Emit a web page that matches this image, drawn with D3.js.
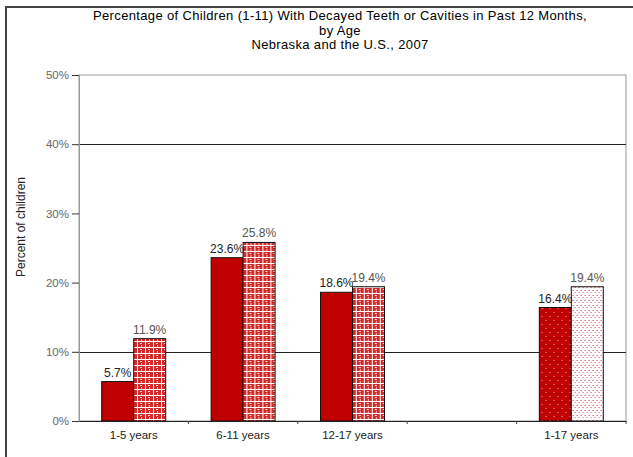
<!DOCTYPE html>
<html>
<head>
<meta charset="utf-8">
<script src="https://d3js.org/d3.v7.min.js"></script>
<style>
  body { margin: 0; background: #fff; }
  text { font-family: Arial, "Liberation Sans", sans-serif; }
</style>
</head>
<body>
<div id="chart"></div>
<script>
// chart values
var categories = ["1-5 years", "6-11 years", "12-17 years", "", "1-17 years"];
var series = ["Nebraska", "U.S."];
var nebraska = [5.7, 23.6, 18.6, null, 16.4];
var us = [11.9, 25.8, 19.4, null, 19.4];
var yTicks = [0, 10, 20, 30, 40, 50];
var gridLines = [10, 40];
var titleLines = [
  "Percentage of Children (1-11) With Decayed Teeth or Cavities in Past 12 Months,",
  "by Age",
  "Nebraska and the U.S., 2007"
];

var width = 633, height = 457;
var margin = {top: 75, right: 7, bottom: 36, left: 79};
var innerW = width - margin.left - margin.right,
    innerH = height - margin.top - margin.bottom;

var svg = d3.select("#chart").append("svg")
  .attr("width", width)
  .attr("height", height);

// patterns for the bars
var defs = svg.append("defs");

var weave = defs.append("pattern").attr("id", "weave")
  .attr("patternUnits", "userSpaceOnUse").attr("width", 8).attr("height", 6);
weave.append("rect").attr("width", 8).attr("height", 6).attr("fill", "#d42a2a");
weave.append("rect").attr("x", 0).attr("y", 2).attr("width", 8).attr("height", 1).attr("fill", "#fff");
weave.append("rect").attr("x", 2).attr("y", 0).attr("width", 1).attr("height", 6).attr("fill", "#fff");
weave.append("rect").attr("x", 5).attr("y", 4).attr("width", 2).attr("height", 1).attr("fill", "#fbe0e0");
weave.append("rect").attr("x", 6).attr("y", 0).attr("width", 1).attr("height", 2).attr("fill", "#f7c8c8");

var dotsDark = defs.append("pattern").attr("id", "dotsDark")
  .attr("patternUnits", "userSpaceOnUse").attr("width", 8).attr("height", 8);
dotsDark.append("rect").attr("width", 8).attr("height", 8).attr("fill", "#c00000");
dotsDark.append("rect").attr("x", 1).attr("y", 1).attr("width", 1).attr("height", 1).attr("fill", "#f4b0b0");
dotsDark.append("rect").attr("x", 5).attr("y", 5).attr("width", 1).attr("height", 1).attr("fill", "#f4b0b0");

var dotsLight = defs.append("pattern").attr("id", "dotsLight")
  .attr("patternUnits", "userSpaceOnUse").attr("width", 4).attr("height", 5);
dotsLight.append("rect").attr("width", 4).attr("height", 5).attr("fill", "#fff");
dotsLight.append("rect").attr("x", 0).attr("y", 0).attr("width", 1).attr("height", 1).attr("fill", "#e03030");
dotsLight.append("rect").attr("x", 2).attr("y", 2).attr("width", 1).attr("height", 1).attr("fill", "#e85050");

// outer frame
svg.append("rect")
  .attr("x", 6).attr("y", 7)
  .attr("width", width + 20).attr("height", height + 20)
  .attr("fill", "none")
  .attr("stroke", "#444")
  .attr("stroke-width", 2);

// title
svg.append("g").selectAll("text")
  .data(titleLines)
  .enter().append("text")
  .attr("x", 340)
  .attr("y", (d, i) => 20 + i * 14.5)
  .attr("text-anchor", "middle")
  .attr("font-size", 13)
  .attr("letter-spacing", 0.35)
  .attr("fill", "#000")
  .text(d => d);

var g = svg.append("g")
  .attr("transform", "translate(" + margin.left + "," + margin.top + ")");

var x0 = d3.scaleBand()
  .domain(d3.range(categories.length))
  .range([0, innerW])
  .padding(0);

var x1 = d3.scaleBand()
  .domain(series)
  .range([0, x0.bandwidth()])
  .paddingInner(0)
  .paddingOuter(0.71);

var y = d3.scaleLinear()
  .domain([0, 50])
  .range([innerH, 0]);

// plot area border
g.append("rect")
  .attr("width", innerW).attr("height", innerH)
  .attr("fill", "none")
  .attr("stroke", "#999")
  .attr("stroke-width", 1);

// grid lines
g.selectAll(".grid")
  .data(gridLines)
  .enter().append("line")
  .attr("class", "grid")
  .attr("x1", 0).attr("x2", innerW)
  .attr("y1", d => Math.round(y(d)) + 0.5)
  .attr("y2", d => Math.round(y(d)) + 0.5)
  .attr("stroke", "#222");

// y axis
var yAxis = g.append("g")
  .call(d3.axisLeft(y).tickValues(yTicks).tickSize(7).tickPadding(3)
    .tickFormat(d => d + "%"));
yAxis.select(".domain").attr("stroke", "#999");
yAxis.selectAll(".tick line").attr("stroke", "#333");
yAxis.selectAll(".tick text")
  .attr("font-size", 11.5)
  .attr("fill", "#666")
  .style("font-family", "Arial, 'Liberation Sans', sans-serif");

// y title
svg.append("text")
  .attr("transform", "translate(25,227) rotate(-90)")
  .attr("text-anchor", "middle")
  .attr("font-size", 12)
  .attr("fill", "#222")
  .text("Percent of children");

// bars
var rows = categories.map((c, i) => ({
  i: i,
  values: [
    {s: series[0], v: nebraska[i]},
    {s: series[1], v: us[i]}
  ].filter(d => d.v != null)
}));

var fills = function (d, i) {
  var total = d.cat === categories.length - 1;
  if (d.s === series[0]) return total ? "url(#dotsDark)" : "#c00000";
  return total ? "url(#dotsLight)" : "url(#weave)";
};

var grp = g.selectAll(".cat")
  .data(rows)
  .enter().append("g")
  .attr("class", "cat")
  .attr("transform", d => "translate(" + x0(d.i) + ",0)");

grp.selectAll("rect")
  .data(d => d.values.map(v => Object.assign({cat: d.i}, v)))
  .enter().append("rect")
  .attr("x", d => x1(d.s))
  .attr("y", d => y(d.v))
  .attr("width", x1.bandwidth())
  .attr("height", d => innerH - y(d.v))
  .attr("fill", fills)
  .attr("stroke", "#111")
  .attr("stroke-width", 1);

grp.selectAll(".lbl")
  .data(d => d.values.map(v => Object.assign({cat: d.i}, v)))
  .enter().append("text")
  .attr("class", "lbl")
  .attr("x", d => x1(d.s) + x1.bandwidth() / 2)
  .attr("y", d => y(d.v) - 5)
  .attr("text-anchor", "middle")
  .attr("font-size", 12)
  .attr("fill", d => d.s === series[0] ? "#222" : "#555")
  .text(d => d.v.toFixed(1) + "%");

// baseline and x axis
var xAxis = g.append("g")
  .attr("transform", "translate(0," + innerH + ")")
  .call(d3.axisBottom(x0).tickSize(0).tickPadding(10)
    .tickFormat(i => categories[i]));
xAxis.select(".domain").attr("stroke", "#222");
xAxis.selectAll(".tick text")
  .attr("font-size", 11.5)
  .attr("fill", "#222")
  .style("font-family", "Arial, 'Liberation Sans', sans-serif");

// small tick marks between categories
g.selectAll(".xtick")
  .data(d3.range(1, categories.length + 1))
  .enter().append("line")
  .attr("class", "xtick")
  .attr("x1", i => i === categories.length ? innerW : x0(i))
  .attr("x2", i => i === categories.length ? innerW : x0(i))
  .attr("y1", innerH)
  .attr("y2", innerH + 3)
  .attr("stroke", "#444");
</script>
</body>
</html>
